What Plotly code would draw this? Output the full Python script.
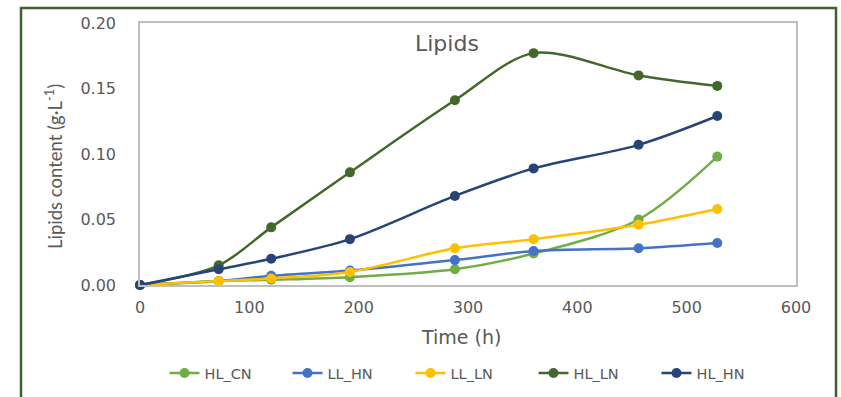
import plotly.graph_objects as go

time_h = [0, 72, 120, 192, 288, 360, 456, 528]
series_names = ["HL_CN", "LL_HN", "LL_LN", "HL_LN", "HL_HN"]
hl_cn = [0.000, 0.003, 0.004, 0.006, 0.012, 0.024, 0.050, 0.098]
ll_hn = [0.000, 0.003, 0.007, 0.011, 0.019, 0.026, 0.028, 0.032]
ll_ln = [0.000, 0.003, 0.005, 0.010, 0.028, 0.035, 0.046, 0.058]
hl_ln = [0.000, 0.015, 0.044, 0.086, 0.141, 0.177, 0.160, 0.152]
hl_hn = [0.000, 0.012, 0.020, 0.035, 0.068, 0.089, 0.107, 0.129]
colors = ["#70AD47", "#4472C4", "#FFC000", "#43682B", "#264478"]
x_ticks = [0, 100, 200, 300, 400, 500, 600]
y_ticks = [0.00, 0.05, 0.10, 0.15, 0.20]

values = [hl_cn, ll_hn, ll_ln, hl_ln, hl_hn]

W, H = 841, 397
L, R, T, B = 140, 45, 23, 112
pw, ph = W - L - R, H - T - B

def px_x(p):
    return (p - L) / pw

def px_y(p):
    return (H - B - p) / ph

fig = go.Figure()
for name, vals, col in zip(series_names, values, colors):
    fig.add_trace(go.Scatter(
        x=time_h, y=vals, name=name, mode="lines+markers",
        line=dict(color=col, width=2.5, shape="spline", smoothing=0.9),
        marker=dict(color=col, size=10),
        cliponaxis=False,
    ))

tick_font = dict(family="DejaVu Sans, sans-serif", size=16, color="#595959")
legend_font = dict(family="DejaVu Sans, sans-serif", size=14.5, color="#595959")
fig.update_layout(
    width=W, height=H,
    margin=dict(l=L, r=R, t=T, b=B, autoexpand=False),
    paper_bgcolor="white", plot_bgcolor="white",
    showlegend=True,
    legend=dict(orientation="h", x=px_x(472), xanchor="center", y=px_y(373), yanchor="middle",
                font=legend_font, entrywidth=78, entrywidthmode="pixels", itemwidth=30),
    xaxis=dict(range=[0, 600], tickvals=x_ticks, ticktext=[str(v) for v in x_ticks],
               showgrid=False, zeroline=False, showline=True, linecolor="#BFBFBF", linewidth=1.5,
               mirror=True, ticks="", tickfont=tick_font, ticklabelstandoff=7),
    yaxis=dict(range=[0, 0.20], tickvals=y_ticks, ticktext=[f"{v:.2f}" for v in y_ticks],
               showgrid=False, zeroline=False, showline=True, linecolor="#BFBFBF", linewidth=1.5,
               mirror=True, ticks="", tickfont=tick_font, ticklabelstandoff=19),
)

fig.add_annotation(text="Lipids", xref="paper", yref="paper", x=px_x(447), y=px_y(44),
                   showarrow=False, xanchor="center", yanchor="middle",
                   font=dict(family="DejaVu Sans, sans-serif", size=22, color="#595959"))
fig.add_annotation(text="Time (h)", xref="paper", yref="paper", x=px_x(461), y=px_y(337),
                   showarrow=False, xanchor="center", yanchor="middle",
                   font=dict(family="DejaVu Sans, sans-serif", size=19, color="#595959"))
fig.add_annotation(text="Lipids content (g·L<sup>-1</sup>)", xref="paper", yref="paper",
                   x=px_x(53), y=px_y(167), textangle=-90,
                   showarrow=False, xanchor="center", yanchor="middle",
                   font=dict(family="Lato, sans-serif", size=18.5, color="#595959"))

fig.add_shape(type="rect", xref="paper", yref="paper",
              x0=px_x(21), x1=px_x(836), y0=px_y(420), y1=px_y(8),
              line=dict(color="#3F6228", width=2.5), layer="below")

fig.write_html("out.html")
